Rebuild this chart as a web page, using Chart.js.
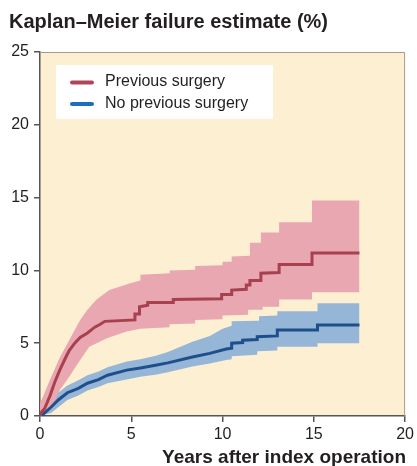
<!DOCTYPE html>
<html><head><meta charset="utf-8">
<script src="https://cdn.jsdelivr.net/npm/chart.js@4.4.1/dist/chart.umd.min.js"></script>
<style>html,body{margin:0;padding:0;background:#fff;}#wrap{width:417px;height:466px;position:relative;}</style>
</head><body><div id="wrap"><canvas id="c" width="417" height="466"></canvas></div>
<script>
// Data: [years, failure %] (step corners given explicitly)
const prevLine = [[0,0],[0.1,0.3],[0.25,0.5],[0.55,1.4],[0.8,2.3],[1.1,3.2],[1.4,4.0],[1.6,4.5],[1.9,5.0],[2.2,5.4],[2.6,5.7],[3.0,6.1],[3.3,6.3],[3.55,6.5],[5.2,6.6],[5.2,7.0],[5.45,7.0],[5.45,7.5],[5.9,7.6],[5.9,7.8],[7.3,7.8],[7.3,8.0],[9.95,8.05],[9.95,8.35],[10.5,8.35],[10.5,8.65],[11.3,8.7],[11.3,9.0],[11.5,9.0],[11.5,9.3],[12.1,9.3],[12.1,9.8],[13.1,9.85],[13.1,10.4],[14.9,10.4],[14.9,11.2],[17.5,11.2]];
const prevUpper = [[0,0.9],[0.16,1.3],[0.55,2.5],[1.1,4.05],[1.6,5.2],[2.2,6.6],[2.6,7.3],[3.1,8.0],[3.8,8.65],[4.9,9.1],[5.5,9.3],[5.5,9.7],[7.1,9.8],[7.1,10.0],[8.5,10.05],[8.5,10.3],[10.0,10.35],[10.0,10.6],[10.5,10.6],[10.5,10.95],[11.5,11.0],[11.5,11.9],[12.1,11.9],[12.1,12.6],[13.1,12.6],[13.1,13.3],[14.9,13.3],[14.9,14.8],[17.5,14.8]];
const prevLower = [[0,0],[0.55,0.4],[1.1,1.8],[1.6,2.7],[2.2,3.85],[2.7,4.75],[3.7,5.35],[4.75,5.8],[5.5,6.0],[7.1,6.1],[7.1,6.3],[8.5,6.35],[8.5,6.6],[10.0,6.65],[10.0,6.9],[11.4,6.95],[11.4,7.3],[12.2,7.3],[12.2,7.5],[13.1,7.5],[13.1,8.0],[14.9,8.0],[14.9,8.5],[17.5,8.5]];
const noPrevLine = [[0,0],[0.15,0.1],[0.6,0.6],[1.0,1.1],[1.5,1.6],[2.1,1.9],[2.6,2.25],[3.2,2.5],[3.7,2.8],[4.75,3.15],[5.5,3.3],[6.4,3.5],[7.0,3.65],[8.35,4.05],[9.3,4.3],[10.2,4.6],[10.5,4.65],[10.5,5.0],[11.1,5.05],[11.1,5.2],[11.9,5.25],[11.9,5.45],[13.0,5.5],[13.0,5.9],[15.2,5.9],[15.2,6.25],[17.5,6.25]];
const noPrevUpper = [[0,0.2],[0.6,1.0],[1.0,1.6],[1.5,2.1],[2.1,2.45],[2.6,2.8],[3.2,3.05],[3.7,3.35],[4.75,3.75],[5.5,3.9],[6.4,4.15],[7.0,4.4],[8.35,5.1],[9.3,5.5],[10.0,6.0],[10.5,6.2],[10.5,6.5],[12.0,6.55],[12.0,6.85],[13.0,6.9],[13.0,7.2],[15.2,7.2],[15.2,7.75],[17.5,7.75]];
const noPrevLower = [[0,0],[0.6,0.2],[1.0,0.6],[1.5,1.1],[2.1,1.4],[2.6,1.75],[3.2,2.0],[3.7,2.25],[4.75,2.5],[5.5,2.7],[6.4,2.85],[7.0,3.0],[8.35,3.4],[9.3,3.6],[10.2,3.85],[10.5,3.9],[10.5,4.1],[11.9,4.2],[11.9,4.45],[13.0,4.5],[13.0,4.75],[15.2,4.75],[15.2,5.0],[17.5,5.0]];
const seriesNames = ['Previous surgery','No previous surgery'];
const yTitle = 'Kaplan–Meier failure estimate (%)';
const xTitle = 'Years after index operation';
const xTicks = [0,5,10,15,20];
const yTicks = [0,5,10,15,20,25];

const pts = a => a.map(p => ({x:p[0], y:p[1]}));
const RED='#a8414f', BLUE='#1f4f8a', PINK='#e9a7b1', LBLUE='#96b6d8';

const decor = {
  id:'decor',
  beforeDraw(ch){
    const {ctx, chartArea:a} = ch;
    ctx.save();
    ctx.fillStyle='#fdefd2';
    ctx.fillRect(a.left,a.top,a.right-a.left,a.bottom-a.top);
    ctx.restore();
  },
  afterDraw(ch){
    const {ctx, chartArea:a} = ch;
    ctx.save();
    ctx.strokeStyle='#a89a88'; ctx.lineWidth=1;
    ctx.beginPath();
    ctx.moveTo(a.left,a.top+0.5); ctx.lineTo(a.right-0.5,a.top+0.5); ctx.lineTo(a.right-0.5,a.bottom);
    ctx.stroke();
    // legend
    ctx.fillStyle='#ffffff';
    ctx.fillRect(56,65,217,54);
    ctx.lineCap='round'; ctx.lineWidth=4;
    ctx.strokeStyle='#b04558'; ctx.beginPath(); ctx.moveTo(72,82.5); ctx.lineTo(92,82.5); ctx.stroke();
    ctx.strokeStyle='#1c6fbf'; ctx.beginPath(); ctx.moveTo(72,104); ctx.lineTo(92,104); ctx.stroke();
    ctx.fillStyle='#231f20';
    ctx.font='16px "Liberation Sans", Arial, sans-serif';
    ctx.textBaseline='middle'; ctx.textAlign='left';
    ctx.fillText(seriesNames[0],105,82);
    ctx.fillText(seriesNames[1],105,103.5);
    // titles
    ctx.font='bold 20px "Liberation Sans", Arial, sans-serif';
    ctx.textBaseline='alphabetic';
    ctx.fillText(yTitle,9,28);
    ctx.font='bold 19px "Liberation Sans", Arial, sans-serif';
    ctx.textAlign='right';
    ctx.fillText(xTitle,406,463);
    ctx.restore();
  }
};

const axisCommon = {
  type:'linear',
  grid:{display:true, drawOnChartArea:false, drawTicks:true, tickLength:6, color:'#555', lineWidth:1.5},
  border:{display:true, color:'#555', width:1.5},
  ticks:{color:'#231f20', font:{family:'"Liberation Sans", Arial, sans-serif', size:16}, stepSize:5, autoSkip:false}
};

const band = (data, color, fill, order) => ({label:'', data:pts(data), borderWidth:0, borderColor:'rgba(0,0,0,0)', backgroundColor:color, pointRadius:0, fill:fill, order:order});

new Chart(document.getElementById('c'), {
  type:'line',
  data:{datasets:[
    {label:seriesNames[0], data:pts(prevLine), borderColor:RED, borderWidth:3, pointRadius:0, fill:false, order:0, borderJoinStyle:'miter'},
    {label:seriesNames[1], data:pts(noPrevLine), borderColor:BLUE, borderWidth:3, pointRadius:0, fill:false, order:0, borderJoinStyle:'miter'},
    band(prevUpper, PINK, '+1', 2),
    band(prevLower, PINK, false, 2),
    band(noPrevUpper, LBLUE, '+1', 3),
    band(noPrevLower, LBLUE, false, 3)
  ]},
  options:{
    responsive:false, animation:false, devicePixelRatio:1,
    layout:{padding:{left:0, top:52, right:11, bottom:0}},
    plugins:{legend:{display:false}, tooltip:{enabled:false}, title:{display:false}, filler:{drawTime:'beforeDatasetsDraw'}},
    scales:{
      x:Object.assign({}, axisCommon, {min:0, max:20, afterFit(s){s.height=50;},
        ticks:Object.assign({}, axisCommon.ticks, {padding:3}),
        afterBuildTicks(s){ s.ticks = xTicks.map(v=>({value:v})); }}),
      y:Object.assign({}, axisCommon, {min:0, max:25, afterFit(s){s.width=40;},
        ticks:Object.assign({}, axisCommon.ticks, {padding:5}),
        afterBuildTicks(s){ s.ticks = yTicks.map(v=>({value:v})); }})
    }
  },
  plugins:[decor]
});
</script></body></html>
